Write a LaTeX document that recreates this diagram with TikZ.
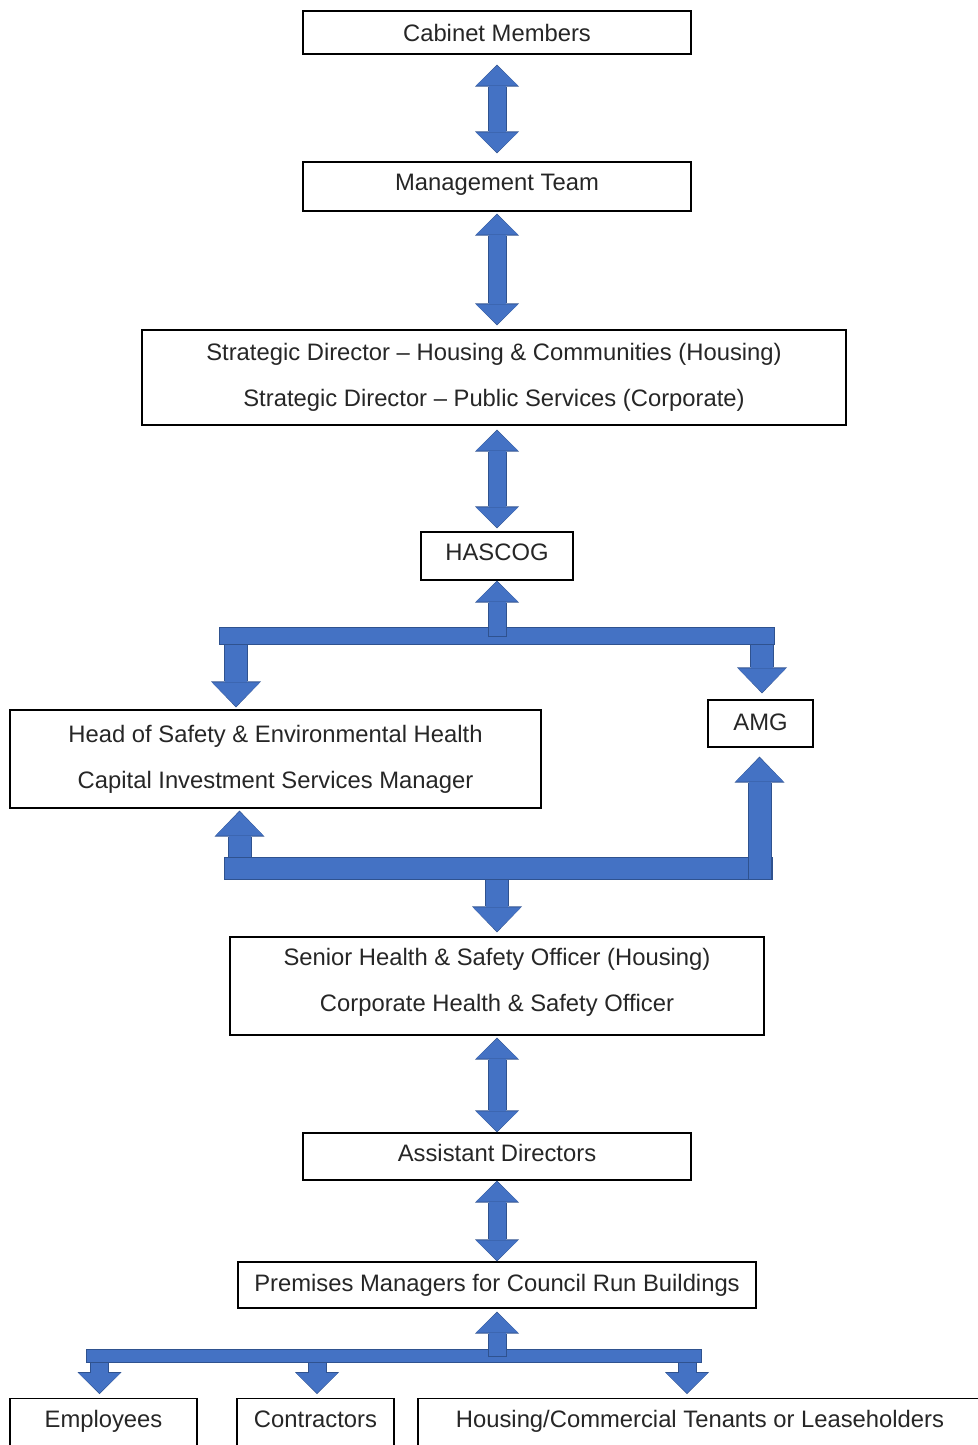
\documentclass[tikz,border=0pt]{standalone}
\usepackage{fontspec}
\setmainfont{Liberation Sans}
\usetikzlibrary{arrows.meta,calc}

\definecolor{arrowfill}{HTML}{4472C4}
\definecolor{arrowedge}{HTML}{2F528F}

\begin{document}
\begin{tikzpicture}[
      x=1pt,
      y=-1pt,
      box/.style={
        draw,
        line width=1.2pt,
        inner sep=0pt,
        align=center,
        text=black!85,
        font=\fontsize{23.8}{46}\selectfont
      },
      bottombox/.style={
        box,
        anchor=north,
        text height=29pt,
        text depth=40pt
      },
      bus/.style={
        draw=arrowfill,
        line width=#1,
        preaction={
          draw=arrowedge,
          line width=#1+2pt,
          shorten <=-1pt,
          shorten >=-1pt
        }
      },
      bothways/.style={
        draw=arrowfill,
        line width=17pt,
        {Triangle[width=42pt,length=20pt,line width=0pt]}-{Triangle[width=42pt,length=20pt,line width=0pt]},
        preaction={
          draw=arrowedge,
          line width=19pt,
          {Triangle[width=44pt,length=22pt,line width=0pt]}-{Triangle[width=44pt,length=22pt,line width=0pt]},
          shorten <=-1pt,
          shorten >=-1pt
        }
      },
      onearrow/.style={
        draw=arrowfill,
        line width=17pt,
        -{Triangle[width=42pt,length=20pt,line width=0pt]},
        preaction={
          draw=arrowedge,
          line width=19pt,
          -{Triangle[width=44pt,length=22pt,line width=0pt]},
          shorten <=-1pt,
          shorten >=-1pt
        }
      },
      bigarrow/.style={
        draw=arrowfill,
        line width=22pt,
        -{Triangle[width=48pt,length=24pt,line width=0pt]},
        preaction={
          draw=arrowedge,
          line width=24pt,
          -{Triangle[width=50pt,length=26pt,line width=0pt]},
          shorten <=-1pt,
          shorten >=-1pt
        }
      }
    ]
      \useasboundingbox (0,0) rectangle (977,1445);

      % boxes
      \node[box,minimum width=388pt,minimum height=43pt] (cabinet) at (497,32.5) {Cabinet Members};
      \node[box,minimum width=388pt,minimum height=49pt,text depth=9pt] (mgmt) at (497,186.5) {Management Team};
      \node[box,minimum width=704pt,minimum height=95pt] (strategic) at (494,377.5)
        {Strategic Director – Housing \& Communities (Housing)\\Strategic Director – Public Services (Corporate)};
      \node[box,minimum width=152pt,minimum height=48pt,text depth=8pt] (hascog) at (497,556) {HASCOG};
      \node[box,minimum width=531pt,minimum height=98pt] (head) at (275.5,759)
        {Head of Safety \& Environmental Health\\Capital Investment Services Manager};
      \node[box,minimum width=105pt,minimum height=47pt,text depth=2pt] (amg) at (760.5,723.5) {AMG};
      \node[box,minimum width=534pt,minimum height=98pt,text depth=13pt] (senior) at (497,986)
        {Senior Health \& Safety Officer (Housing)\\Corporate Health \& Safety Officer};
      \node[box,minimum width=388pt,minimum height=47pt,text depth=8pt] (assistant) at (497,1156.5) {Assistant Directors};
      \node[box,minimum width=518pt,minimum height=46pt] (premises) at (497,1285) {Premises Managers for Council Run Buildings};
      \node[bottombox,minimum width=187pt] (employees) at (103.5,1398) {Employees};
      \node[bottombox,minimum width=157pt] (contractors) at (315.5,1398) {Contractors};
      \node[bottombox,minimum width=564pt] (tenants) at (700,1398) {Housing/Commercial Tenants or Leaseholders};

      % bus ends and branch points
      \coordinate (busAl) at (220,636);
      \coordinate (busAr) at (774,636);
      \coordinate (toHead) at (236,645);
      \coordinate (toAmg) at (762,645);
      \coordinate (busBl) at (225,868.5);
      \coordinate (busBr) at (772,868.5);
      \coordinate (fromHead) at (239.5,857);
      \coordinate (fromAmg) at (759.5,879);
      \coordinate (toSenior) at (497,880);
      \coordinate (busCl) at (87,1356);
      \coordinate (busCr) at (701,1356);

      % chain at the top
      \draw[bothways] ($(cabinet.south)+(0,11)$) -- ($(mgmt.north)+(0,-9)$);
      \draw[bothways] ($(mgmt.south)+(0,3)$) -- ($(strategic.north -| mgmt.south)+(0,-5)$);
      \draw[bothways] ($(strategic.south -| hascog.north)+(0,5)$) -- ($(hascog.north)+(0,-4)$);

      % upper bus
      \draw[bus=16pt] (busAl) -- (busAr);
      \draw[onearrow] (hascog.south |- busAl) -- ($(hascog.south)+(0,1)$);
      \draw[bigarrow] (toHead) -- ($(toHead |- head.north)+(0,-3)$);
      \draw[bigarrow] (toAmg) -- ($(toAmg |- amg.north)+(0,-7)$);

      % lower bus
      \draw[bus=21pt] (busBl) -- (busBr);
      \draw[bigarrow] (fromHead) -- ($(fromHead |- head.south)+(0,3)$);
      \draw[bigarrow] (fromAmg) -- ($(fromAmg |- amg.south)+(0,10)$);
      \draw[bigarrow] (toSenior) -- ($(senior.north)+(0,-5)$);

      % chain at the bottom
      \draw[bothways] ($(senior.south)+(0,3)$) -- ($(assistant.north)+(0,-1)$);
      \draw[bothways] ($(assistant.south)+(0,1)$) -- ($(premises.north)+(0,-1)$);

      % bottom bus
      \draw[bus=12pt] (busCl) -- (busCr);
      \draw[onearrow] (premises.south |- busCl) -- ($(premises.south)+(0,4)$);
      \foreach \x/\n in {99.5/employees,317/contractors,687/tenants}
        \draw[onearrow] (\x,1363) -- ($(\x,1363 |- \n.north)+(0,-5)$);
    \end{tikzpicture}
\end{document}
